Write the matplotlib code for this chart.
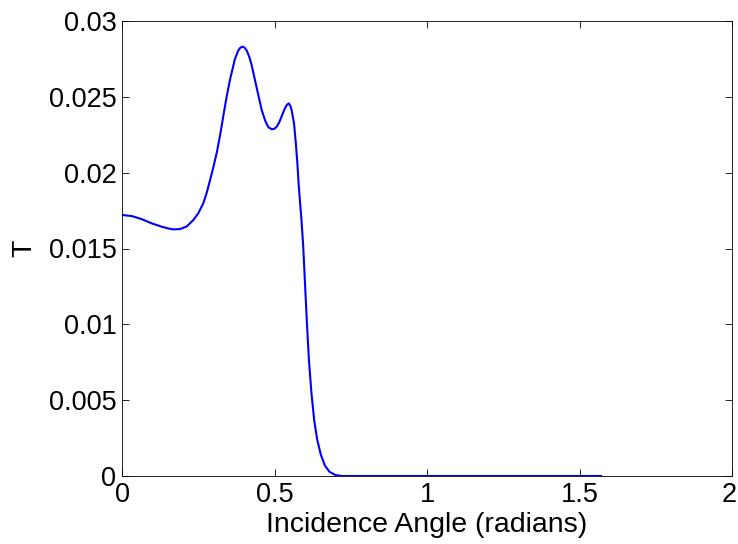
import matplotlib
matplotlib.use("Agg")
import matplotlib.pyplot as plt
import matplotlib.transforms as mtransforms

angle = [0.000, 0.032, 0.064, 0.097, 0.130, 0.150, 0.168, 0.190, 0.212, 0.234,
         0.250, 0.267, 0.278, 0.289, 0.300, 0.311, 0.322, 0.332, 0.343, 0.354,
         0.370, 0.381, 0.388, 0.394, 0.401, 0.409, 0.417, 0.425, 0.442, 0.458,
         0.470, 0.480, 0.491, 0.500, 0.507, 0.515, 0.523, 0.532, 0.540, 0.547,
         0.552, 0.556, 0.560, 0.564, 0.570, 0.575, 0.579, 0.584, 0.588, 0.594,
         0.600, 0.606, 0.613, 0.621, 0.630, 0.640, 0.652, 0.665, 0.680, 0.700,
         0.720, 1.000, 1.5708]
T = [0.01721, 0.01714, 0.01694, 0.01666, 0.01644, 0.01633, 0.01626, 0.01628, 0.01645, 0.01688,
     0.01732, 0.01800, 0.01870, 0.01952, 0.02040, 0.02135, 0.02252, 0.02372, 0.02500, 0.02612,
     0.02748, 0.02805, 0.02824, 0.02831, 0.02826, 0.02805, 0.02765, 0.02710, 0.02556, 0.02413,
     0.02340, 0.02300, 0.02286, 0.02290, 0.02303, 0.02330, 0.02369, 0.02415, 0.02446, 0.02457,
     0.02440, 0.02413, 0.02370, 0.02325, 0.02193, 0.02061, 0.01930, 0.01798, 0.01699, 0.01520,
     0.01270, 0.01020, 0.00760, 0.00550, 0.00370, 0.00240, 0.00140, 0.00070, 0.00028, 0.00006,
     0.0, 0.0, 0.0]

xticks = [0, 0.5, 1, 1.5, 2]
xticklabels = ["0", "0.5", "1", "1.5", "2"]
yticks = [0, 0.005, 0.01, 0.015, 0.02, 0.025, 0.03]
yticklabels = ["0", "0.005", "0.01", "0.015", "0.02", "0.025", "0.03"]

plt.rcParams['font.family'] = ['Liberation Sans', 'DejaVu Sans']

fig = plt.figure(figsize=(7.38, 5.44), dpi=100)
ax = fig.add_axes([122/738, 68/544, 610/738, 455/544])
ax.plot(angle, T, color=(0, 0, 1), linewidth=1.5, solid_joinstyle='round')
ax.set_xlim(0, 2)
ax.set_ylim(0, 0.03)
ax.set_xticks(xticks)
ax.set_xticklabels(xticklabels)
ax.set_yticks(yticks)
ax.set_yticklabels(yticklabels)
ax.tick_params(direction='in', length=5, width=0.6, top=True, right=True,
               labelsize=19.5, pad=4, colors='black')
for s in ax.spines.values():
    s.set_linewidth(0.6)
ax.set_xlabel("Incidence Angle (radians)", fontsize=20.5, labelpad=3)
ax.set_ylabel("T", fontsize=20.5, labelpad=8)

# nudge the last x tick label so it stays inside the canvas
last = ax.get_xticklabels()[-1]
last.set_transform(last.get_transform() +
                   mtransforms.ScaledTranslation(-3/100, 0, fig.dpi_scale_trans))

fig.savefig("out.png", dpi=100)
